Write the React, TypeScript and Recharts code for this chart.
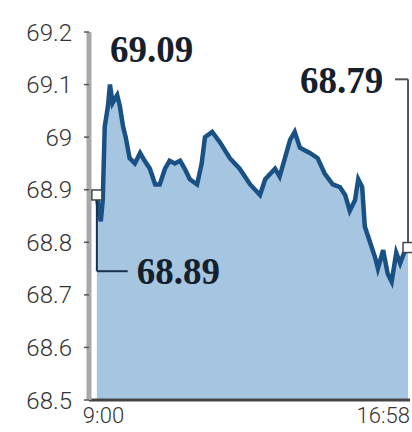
import React from "react";
import { AreaChart, Area, XAxis, YAxis, ReferenceLine, ReferenceDot } from "recharts";

// minutes after 9:00
const minutes = [0, 3, 6, 9, 12, 17, 20, 24, 31, 35, 40, 44, 50, 58, 66, 73, 81, 89, 96, 104, 111, 119, 127, 134, 142, 153, 160, 165, 176, 188, 203, 218, 234, 249, 257, 272, 279, 295, 302, 310, 325, 337, 348, 360, 371, 379, 386, 394, 399, 405, 409, 417, 425, 429, 437, 444, 450, 457, 463, 469, 475];
const rates = [68.89, 68.86, 68.84, 68.88, 69.02, 69.06, 69.1, 69.065, 69.08, 69.06, 69.02, 69.0, 68.96, 68.95, 68.97, 68.955, 68.94, 68.91, 68.91, 68.94, 68.955, 68.95, 68.955, 68.94, 68.92, 68.91, 68.95, 69.0, 69.01, 68.99, 68.96, 68.94, 68.91, 68.89, 68.92, 68.94, 68.925, 68.995, 69.01, 68.98, 68.97, 68.96, 68.93, 68.91, 68.905, 68.89, 68.86, 68.88, 68.92, 68.905, 68.83, 68.8, 68.77, 68.75, 68.785, 68.74, 68.725, 68.78, 68.76, 68.78, 68.79];
const yTicks = [68.5, 68.6, 68.7, 68.8, 68.9, 69, 69.1, 69.2];
const xTicks = [0, 478];
const xTickLabels = ["9:00", "16:58"];
const highLabel = "69.09";
const openLabel = "68.89";
const closeLabel = "68.79";

const data = minutes.map((t, i) => ({ t, v: rates[i] }));
const first = data[0];
const last = data[data.length - 1];

const XTick = (props: any) => {
  const { x, y, payload, index } = props;
  const isFirst = index === 0;
  return (
    <text
      x={isFirst ? x - 14 : x}
      y={y + 15}
      textAnchor={isFirst ? "start" : "end"}
      fontSize={22}
      fontFamily="Roboto"
      fontWeight={300}
      fill="#333"
    >
      {xTickLabels[xTicks.indexOf(payload.value)]}
    </text>
  );
};

const labelShape = (text: string, anchor: "start" | "end") => (p: any) => (
  <text
    x={p.cx}
    y={p.cy}
    textAnchor={anchor}
    fontSize={37}
    fontWeight={700}
    fontFamily="'Liberation Serif', serif"
    fill="#15202c"
  >
    {text}
  </text>
);

const markerShape = (p: any) => (
  <rect x={p.cx - 5} y={p.cy - 5} width={10} height={10} fill="#fff" stroke="#3a4a50" strokeWidth={1.5} />
);

export default function App() {
  return (
    <div style={{ position: "absolute", left: 0, top: 0, background: "#fff" }}>
      <AreaChart width={412} height={432} data={data} margin={{ top: 32, right: 2, bottom: 2, left: 0 }}>
        <XAxis
          dataKey="t"
          type="number"
          domain={[-12, 478]}
          ticks={xTicks}
          tick={<XTick />}
          tickLine={false}
          axisLine={{ stroke: "#444", strokeWidth: 3 }}
          height={30}
          interval={0}
        />
        <YAxis
          type="number"
          domain={[68.5, 69.2]}
          ticks={yTicks}
          width={89}
          tickSize={5}
          tickMargin={12}
          tickLine={{ stroke: "#555", strokeWidth: 1.5 }}
          axisLine={{ stroke: "#a8a8a8", strokeWidth: 5 }}
          tick={{ fontSize: 24, fill: "#333", fontFamily: "Roboto", fontWeight: 300 }}
          interval={0}
        />
        <Area
          dataKey="v"
          type="linear"
          stroke="#1a5184"
          strokeWidth={4.5}
          fill="#a5c5e1"
          fillOpacity={1}
          isAnimationActive={false}
          dot={false}
          activeDot={false}
        />
        <ReferenceLine segment={[{ x: first.t, y: first.v }, { x: first.t, y: 68.745 }]} stroke="#1a3050" strokeWidth={2} />
        <ReferenceLine segment={[{ x: first.t, y: 68.745 }, { x: 47, y: 68.745 }]} stroke="#1a3050" strokeWidth={2} />
        <ReferenceLine segment={[{ x: last.t, y: last.v }, { x: last.t, y: 69.11 }]} stroke="#555" strokeWidth={2} />
        <ReferenceLine segment={[{ x: last.t, y: 69.11 }, { x: 455, y: 69.11 }]} stroke="#555" strokeWidth={2} />
        <ReferenceDot x={first.t} y={first.v} shape={markerShape} />
        <ReferenceDot x={last.t} y={last.v} shape={markerShape} />
        <ReferenceDot x={20} y={69.143} shape={labelShape(highLabel, "start")} />
        <ReferenceDot x={61} y={68.72} shape={labelShape(openLabel, "start")} />
        <ReferenceDot x={437} y={69.084} shape={labelShape(closeLabel, "end")} />
      </AreaChart>
    </div>
  );
}
